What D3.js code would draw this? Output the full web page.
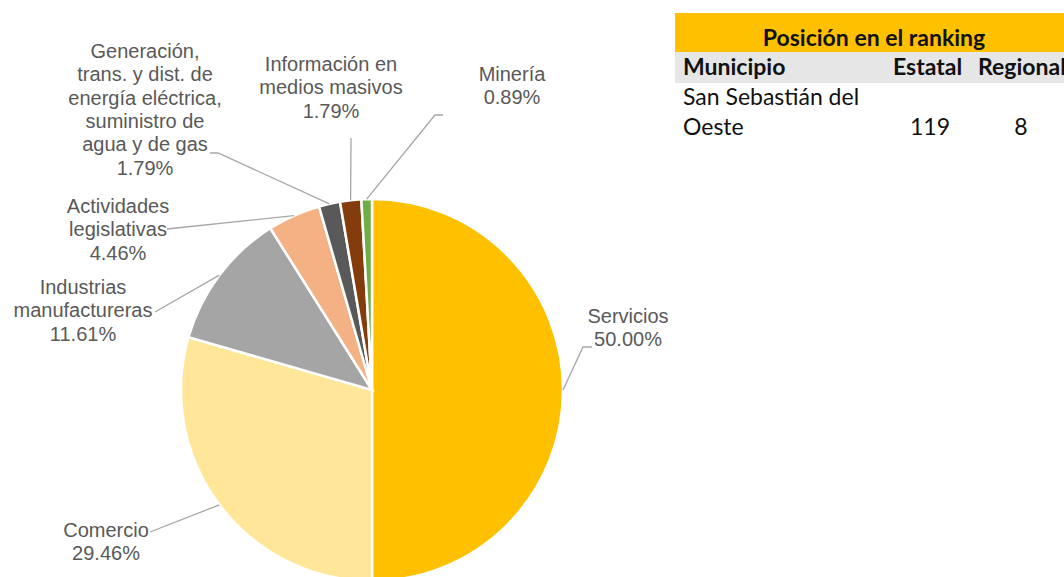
<!DOCTYPE html>
<html>
<head>
<meta charset="utf-8">
<script src="https://cdn.jsdelivr.net/npm/d3@7"></script>
<style>
  body { margin: 0; background: #fff; }
  svg { display: block; }
</style>
</head>
<body>
<script>
// Data
var categories = ["Servicios", "Comercio", "Industrias manufactureras", "Actividades legislativas",
                  "Generación, trans. y dist. de energía eléctrica, suministro de agua y de gas",
                  "Información en medios masivos", "Minería"];
var values = [50.00, 29.46, 11.61, 4.46, 1.79, 1.79, 0.89];
var colors = ["#FFC000", "#FFE699", "#A5A5A5", "#F4B183", "#595959", "#843C0C", "#70AD47"];

// label text lines per slice (as Excel wrapped them)
var labelLines = [
  ["Servicios"],
  ["Comercio"],
  ["Industrias", "manufactureras"],
  ["Actividades", "legislativas"],
  ["Generación,", "trans. y dist. de", "energía eléctrica,", "suministro de", "agua y de gas"],
  ["Información en", "medios masivos"],
  ["Minería"]
];

// ranking table
var tableTitle = "Posición en el ranking";
var tableHeader = ["Municipio", "Estatal", "Regional"];
var tableRow = [["San Sebastián del", "Oeste"], "119", "8"];

var width = 1064, height = 577;
var svg = d3.select("body").append("svg")
    .attr("width", width)
    .attr("height", height);

// Pie
var cx = 372, cy = 390, radius = 191;
var gPie = svg.append("g").attr("transform", "translate(" + cx + "," + cy + ")");

var pie = d3.pie().sort(null).value(function(d) { return d; });
var arcs = pie(values);
var arc = d3.arc().innerRadius(0).outerRadius(radius);
var edge = d3.arc().innerRadius(radius).outerRadius(radius);

gPie.selectAll("path")
    .data(arcs)
    .enter()
    .append("path")
    .attr("d", arc)
    .attr("fill", function(d, i) { return colors[i]; })
    .attr("stroke", "#fff")
    .attr("stroke-width", 2.5);

// label placement (x centre, first line baseline) and leader start
var labelLayout = [
  {x: 628, y: 323, lead: [[592, 347], [583, 347]]},
  {x: 106, y: 537, lead: [[150, 532]]},
  {x: 83,  y: 294, lead: [[155, 312]]},
  {x: 118, y: 213, lead: [[167, 229]]},
  {x: 145, y: 58,  lead: [[210, 153], [218, 153]]},
  {x: 331, y: 71,  lead: [[351, 138]]},
  {x: 512, y: 81,  lead: [[443, 115], [435, 115]]}
];
var lineH = 23.3;

// leader lines
svg.selectAll("polyline.leader")
    .data(arcs)
    .enter()
    .append("polyline")
    .attr("class", "leader")
    .attr("fill", "none")
    .attr("stroke", "#A6A6A6")
    .attr("stroke-width", 1.3)
    .attr("points", function(d, i) {
        var c = edge.centroid(d);
        var pts = labelLayout[i].lead.slice();
        pts.push([cx + c[0], cy + c[1]]);
        return pts.map(function(p) { return p.join(","); }).join(" ");
    });

// labels
var labels = svg.selectAll("text.lbl")
    .data(arcs)
    .enter()
    .append("text")
    .attr("class", "lbl")
    .attr("text-anchor", "middle")
    .attr("font-family", "Liberation Sans, Arial, sans-serif")
    .attr("font-size", "20px")
    .attr("fill", "#595959")
    .attr("x", function(d, i) { return labelLayout[i].x; })
    .attr("y", function(d, i) { return labelLayout[i].y; });

labels.each(function(d, i) {
    var t = d3.select(this);
    var lines = labelLines[i].concat([d3.format(".2f")(values[i]) + "%"]);
    lines.forEach(function(s, k) {
        t.append("tspan")
            .attr("x", labelLayout[i].x)
            .attr("dy", k === 0 ? 0 : lineH)
            .text(s);
    });
});

// Ranking table
var tx = 675, tw = width - tx;
var gTab = svg.append("g").attr("font-family", "Lato, Open Sans, sans-serif");

gTab.append("rect")
    .attr("x", tx).attr("y", 13)
    .attr("width", tw).attr("height", 39)
    .attr("fill", "#FFC000");
gTab.append("rect")
    .attr("x", tx).attr("y", 52)
    .attr("width", tw).attr("height", 31)
    .attr("fill", "#E7E6E6");

gTab.append("text")
    .attr("x", 874).attr("y", 46)
    .attr("text-anchor", "middle")
    .attr("font-size", "23px")
    .attr("font-weight", "bold")
    .attr("fill", "#111")
    .text(tableTitle);

var hdrX = [683, 893, 978];
gTab.selectAll("text.hdr")
    .data(tableHeader)
    .enter()
    .append("text")
    .attr("class", "hdr")
    .attr("x", function(d, i) { return hdrX[i]; })
    .attr("y", 75)
    .attr("font-size", "23px")
    .attr("font-weight", "bold")
    .attr("fill", "#111")
    .text(function(d) { return d; });

tableRow[0].forEach(function(s, k) {
    gTab.append("text")
        .attr("x", 683).attr("y", 105 + k * 30)
        .attr("font-size", "23px")
        .attr("fill", "#111")
        .text(s);
});
var valX = [930, 1021];
gTab.selectAll("text.val")
    .data(tableRow.slice(1))
    .enter()
    .append("text")
    .attr("class", "val")
    .attr("x", function(d, i) { return valX[i]; })
    .attr("y", 135)
    .attr("text-anchor", "middle")
    .attr("font-size", "23px")
    .attr("fill", "#111")
    .text(function(d) { return d; });
</script>
</body>
</html>
